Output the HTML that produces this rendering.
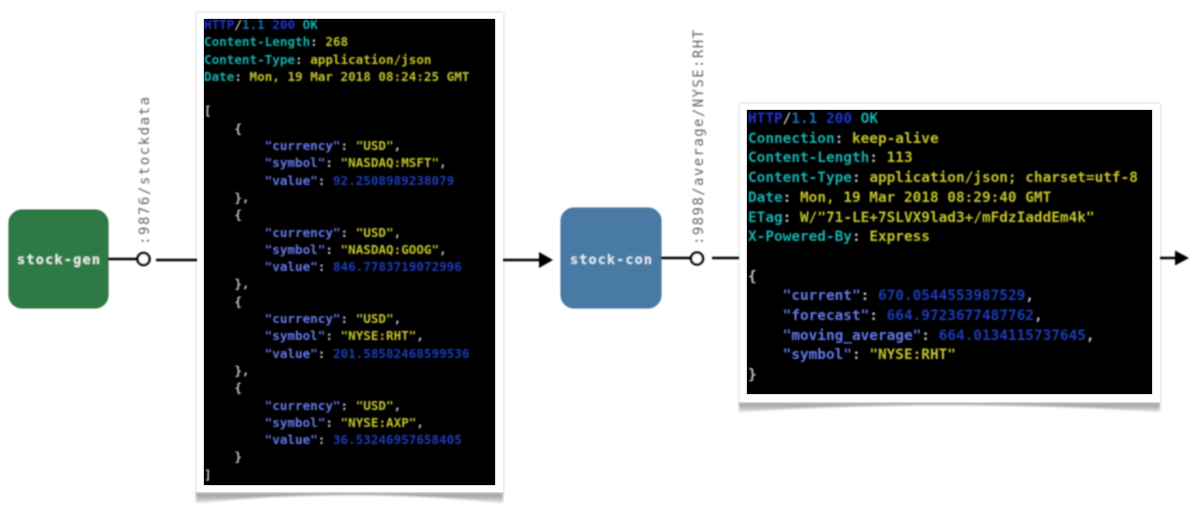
<!DOCTYPE html>
<html>
<head>
<meta charset="utf-8">
<style>
html,body{margin:0;padding:0;background:#fff;}
body{width:1200px;height:508px;overflow:hidden;position:relative;}
.card{position:absolute;background:#fff;box-shadow:0 0 3px 1px #e2e2e2;}
.panel{position:absolute;background:#000;overflow:hidden;box-shadow:0 0 1px #555;}
.panel pre{position:absolute;left:0;margin:0;font-family:"DejaVu Sans Mono","Liberation Mono",monospace;font-weight:bold;filter:blur(.7px);white-space:pre;}
.c{color:#16b0b0}.y{color:#c4c42c}.k{color:#6478ec}.n{color:#1c3ab8}.w{color:#c4c4c4}.h{color:#2233d0}.d{color:#1670b0}
svg{position:absolute;left:0;top:0;}
</style>
</head>
<body>
<svg width="1200" height="508" viewBox="0 0 1200 508" style="z-index:0">
<defs>
<filter id="b1"><feGaussianBlur stdDeviation="0.7"/></filter>
<filter id="b2"><feGaussianBlur stdDeviation="1"/></filter>
<linearGradient id="sh" x1="0" y1="0" x2="0" y2="1"><stop offset="0" stop-color="#8a8a8a"/><stop offset="1" stop-color="#e4e4e4"/></linearGradient>
</defs>
<path d="M196 492 H503 V503 Q350 487 196 503 Z" fill="url(#sh)" filter="url(#b2)"/>
<path d="M739 402 H1160 V412 Q950 398 739 412 Z" fill="url(#sh)" filter="url(#b2)"/>
</svg>

<div class="card" style="left:197px;top:13px;width:306px;height:479px;"></div>
<div class="card" style="left:740px;top:104px;width:420px;height:298px;"></div>

<div class="panel" style="left:204px;top:19px;width:291px;height:466px;">
<pre style="top:-3px;font-size:12.6px;line-height:17.3px;"><span class="h">HTTP</span><span class="w">/</span><span class="d">1.1</span> <span class="h">200</span> <span class="c">OK</span>
<span class="c">Content-Length</span><span class="w">:</span> <span class="y">268</span>
<span class="c">Content-Type</span><span class="w">:</span> <span class="y">application/json</span>
<span class="c">Date</span><span class="w">:</span> <span class="y">Mon, 19 Mar 2018 08:24:25 GMT</span>

<span class="w">[</span>
<span class="w">    {</span>
        <span class="k">"currency"</span><span class="w">:</span> <span class="y">"USD"</span><span class="w">,</span>
        <span class="k">"symbol"</span><span class="w">:</span> <span class="y">"NASDAQ:MSFT"</span><span class="w">,</span>
        <span class="k">"value"</span><span class="w">:</span> <span class="n">92.2508989238079</span>
<span class="w">    },</span>
<span class="w">    {</span>
        <span class="k">"currency"</span><span class="w">:</span> <span class="y">"USD"</span><span class="w">,</span>
        <span class="k">"symbol"</span><span class="w">:</span> <span class="y">"NASDAQ:GOOG"</span><span class="w">,</span>
        <span class="k">"value"</span><span class="w">:</span> <span class="n">846.7783719072996</span>
<span class="w">    },</span>
<span class="w">    {</span>
        <span class="k">"currency"</span><span class="w">:</span> <span class="y">"USD"</span><span class="w">,</span>
        <span class="k">"symbol"</span><span class="w">:</span> <span class="y">"NYSE:RHT"</span><span class="w">,</span>
        <span class="k">"value"</span><span class="w">:</span> <span class="n">201.58582468599536</span>
<span class="w">    },</span>
<span class="w">    {</span>
        <span class="k">"currency"</span><span class="w">:</span> <span class="y">"USD"</span><span class="w">,</span>
        <span class="k">"symbol"</span><span class="w">:</span> <span class="y">"NYSE:AXP"</span><span class="w">,</span>
        <span class="k">"value"</span><span class="w">:</span> <span class="n">36.53246957658405</span>
<span class="w">    }</span>
<span class="w">]</span></pre>
</div>

<div class="panel" style="left:747px;top:110px;width:405px;height:284px;">
<pre style="top:0;left:1px;font-size:14.4px;line-height:19.7px;"><span class="h">HTTP</span><span class="w">/</span><span class="d">1.1</span> <span class="h">200</span> <span class="c">OK</span>
<span class="c">Connection</span><span class="w">:</span> <span class="y">keep-alive</span>
<span class="c">Content-Length</span><span class="w">:</span> <span class="y">113</span>
<span class="c">Content-Type</span><span class="w">:</span> <span class="y">application/json; charset=utf-8</span>
<span class="c">Date</span><span class="w">:</span> <span class="y">Mon, 19 Mar 2018 08:29:40 GMT</span>
<span class="c">ETag</span><span class="w">:</span> <span class="y">W/"71-LE+7SLVX9lad3+/mFdzIaddEm4k"</span>
<span class="c">X-Powered-By</span><span class="w">:</span> <span class="y">Express</span>

<span class="w">{</span>
    <span class="k">"current"</span><span class="w">:</span> <span class="n">670.0544553987529</span><span class="w">,</span>
    <span class="k">"forecast"</span><span class="w">:</span> <span class="n">664.9723677487762</span><span class="w">,</span>
    <span class="k">"moving_average"</span><span class="w">:</span> <span class="n">664.0134115737645</span><span class="w">,</span>
    <span class="k">"symbol"</span><span class="w">:</span> <span class="y">"NYSE:RHT"</span>
<span class="w">}</span></pre>
</div>

<svg width="1200" height="508" viewBox="0 0 1200 508" style="z-index:2">
<g filter="url(#b1)">
<rect x="9" y="210" width="99" height="98" rx="13" fill="#2f7a45" stroke="#24633a" stroke-width="1"/>
<rect x="561" y="208" width="100" height="100" rx="13" fill="#4a7aa5" stroke="#3e6a92" stroke-width="1"/>
<text x="17" y="264" textLength="83" font-family="DejaVu Sans Mono, monospace" font-size="13.500" font-weight="bold" fill="#e6f0e6">stock-gen</text>
<text x="570" y="264" textLength="82" font-family="DejaVu Sans Mono, monospace" font-size="13.500" font-weight="bold" fill="#dfeaf3">stock-con</text>

<line x1="108" y1="259" x2="137" y2="259" stroke="#000" stroke-width="2.600"/>
<circle cx="143.500" cy="259" r="6" fill="#fff" stroke="#000" stroke-width="2.600"/>
<line x1="156" y1="260" x2="197" y2="260" stroke="#000" stroke-width="2.400"/>

<line x1="503" y1="260" x2="542" y2="260" stroke="#000" stroke-width="2.400"/>
<path d="M539 252 L553 260 L539 268 Z" fill="#000"/>

<line x1="661" y1="258" x2="690" y2="258" stroke="#000" stroke-width="2.600"/>
<circle cx="697" cy="258.500" r="6" fill="#fff" stroke="#000" stroke-width="2.600"/>
<line x1="712" y1="258" x2="739" y2="258" stroke="#000" stroke-width="2.400"/>

<line x1="1160" y1="258" x2="1180" y2="258" stroke="#000" stroke-width="2.400"/>
<path d="M1175 250.500 L1189 258 L1175 265.500 Z" fill="#000"/>

<text transform="translate(149,245) rotate(-90)" textLength="148" font-family="DejaVu Sans Mono, monospace" font-size="14" fill="#666">:9876/stockdata</text>
<text transform="translate(703,245) rotate(-90)" textLength="215" font-family="DejaVu Sans Mono, monospace" font-size="14" fill="#666">:9898/average/NYSE:RHT</text>
</g>
</svg>
</body>
</html>
